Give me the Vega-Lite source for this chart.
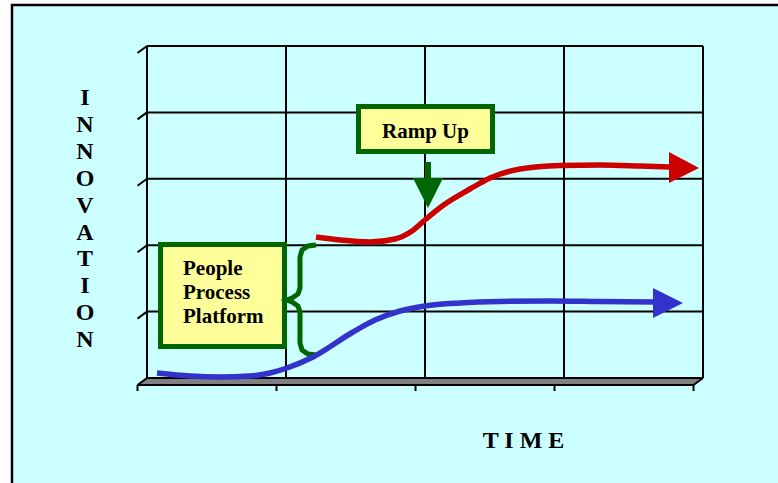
{
  "$schema": "https://vega.github.io/schema/vega-lite/v6.json",
  "width": 778,
  "height": 483,
  "autosize": "none",
  "padding": 0,
  "background": "#ffffff",
  "config": {"view": {"stroke": null}},
  "datasets": {
    "frame": [{"time": -0.9712, "time2": 4.9, "level": 5.6175, "level2": -1.9}],
    "floor": [
      {"level": 0, "time": 0, "time2": 4},
      {"level": -0.1054, "time": -0.0683, "time2": 3.9317}
    ],
    "lines": [
      {"time": 0, "level": 0, "time2": 0, "level2": 5},
      {"time": 1, "level": 0, "time2": 1, "level2": 5},
      {"time": 2, "level": 0, "time2": 2, "level2": 5},
      {"time": 3, "level": 0, "time2": 3, "level2": 5},
      {"time": 4, "level": 0, "time2": 4, "level2": 5},
      {"time": 0, "level": 0, "time2": 4, "level2": 0},
      {"time": 0, "level": 1, "time2": 4, "level2": 1},
      {"time": 0, "level": 2, "time2": 4, "level2": 2},
      {"time": 0, "level": 3, "time2": 4, "level2": 3},
      {"time": 0, "level": 4, "time2": 4, "level2": 4},
      {"time": 0, "level": 5, "time2": 4, "level2": 5},
      {"time": 0, "level": 0, "time2": -0.0683, "level2": -0.1054},
      {"time": 0, "level": 1, "time2": -0.0683, "level2": 0.8946},
      {"time": 0, "level": 2, "time2": -0.0683, "level2": 1.8946},
      {"time": 0, "level": 3, "time2": -0.0683, "level2": 2.8946},
      {"time": 0, "level": 4, "time2": -0.0683, "level2": 3.8946},
      {"time": 0, "level": 5, "time2": -0.0683, "level2": 4.8946},
      {"time": 4, "level": 0, "time2": 3.9317, "level2": -0.1054},
      {"time": -0.0683, "level": -0.1054, "time2": 3.9317, "level2": -0.1054},
      {"time": -0.0683, "level": -0.1054, "time2": -0.0683, "level2": -0.1958},
      {"time": 0.9317, "level": -0.1054, "time2": 0.9317, "level2": -0.1958},
      {"time": 1.9317, "level": -0.1054, "time2": 1.9317, "level2": -0.1958},
      {"time": 2.9317, "level": -0.1054, "time2": 2.9317, "level2": -0.1958},
      {"time": 3.9317, "level": -0.1054, "time2": 3.9317, "level2": -0.1958}
    ],
    "boxes": [
      {"name": "ramp", "time": 1.5216, "time2": 2.4856, "level": 4.0889, "level2": 3.4111},
      {"name": "ppp", "time": 0.0971, "time2": 0.9892, "level": 2.0105, "level2": 0.4744}
    ],
    "brace": [
      {"i": 1, "time": 1.2158, "level": 2.0030},
      {"i": 2, "time": 1.1583, "level": 1.9880},
      {"i": 3, "time": 1.1151, "level": 1.9277},
      {"i": 4, "time": 1.1007, "level": 1.8223},
      {"i": 5, "time": 1.1007, "level": 1.3554},
      {"i": 6, "time": 1.0863, "level": 1.2651},
      {"i": 7, "time": 1.0432, "level": 1.2048},
      {"i": 8, "time": 1.0072, "level": 1.1747},
      {"i": 9, "time": 1.0432, "level": 1.1446},
      {"i": 10, "time": 1.0863, "level": 1.0843},
      {"i": 11, "time": 1.1007, "level": 0.9940},
      {"i": 12, "time": 1.1007, "level": 0.5271},
      {"i": 13, "time": 1.1151, "level": 0.4217},
      {"i": 14, "time": 1.1583, "level": 0.3614},
      {"i": 15, "time": 1.2158, "level": 0.3464}
    ],
    "curves": [
      {"series": "lower", "time": 0.0719, "level": 0.0753},
      {"series": "lower", "time": 0.3094, "level": 0.0301},
      {"series": "lower", "time": 0.5252, "level": 0.0151},
      {"series": "lower", "time": 0.7410, "level": 0.0301},
      {"series": "lower", "time": 0.8849, "level": 0.0753},
      {"series": "lower", "time": 1.0072, "level": 0.1506},
      {"series": "lower", "time": 1.1942, "level": 0.3163},
      {"series": "lower", "time": 1.4820, "level": 0.6928},
      {"series": "lower", "time": 1.6403, "level": 0.8735},
      {"series": "lower", "time": 1.8201, "level": 1.0090},
      {"series": "lower", "time": 2.0, "level": 1.0843},
      {"series": "lower", "time": 2.2518, "level": 1.1295},
      {"series": "lower", "time": 2.5396, "level": 1.1521},
      {"series": "lower", "time": 2.8993, "level": 1.1596},
      {"series": "lower", "time": 3.2590, "level": 1.1521},
      {"series": "lower", "time": 3.6547, "level": 1.1446},
      {"series": "upper", "time": 1.2158, "level": 2.1235},
      {"series": "upper", "time": 1.3885, "level": 2.0783},
      {"series": "upper", "time": 1.6043, "level": 2.0482},
      {"series": "upper", "time": 1.7842, "level": 2.0934},
      {"series": "upper", "time": 1.9065, "level": 2.2139},
      {"series": "upper", "time": 2.0072, "level": 2.3946},
      {"series": "upper", "time": 2.1439, "level": 2.6205},
      {"series": "upper", "time": 2.3237, "level": 2.8464},
      {"series": "upper", "time": 2.4676, "level": 3.0120},
      {"series": "upper", "time": 2.6835, "level": 3.1476},
      {"series": "upper", "time": 2.9712, "level": 3.2003},
      {"series": "upper", "time": 3.2590, "level": 3.2078},
      {"series": "upper", "time": 3.5468, "level": 3.1928},
      {"series": "upper", "time": 3.7626, "level": 3.1777}
    ],
    "heads": [
      {"series": "lower", "time": 3.6403, "level": 1.3554, "level2": 0.9036},
      {"series": "lower", "time": 3.8561, "level": 1.1295, "level2": 1.1295},
      {"series": "upper", "time": 3.7554, "level": 3.4036, "level2": 2.9367},
      {"series": "upper", "time": 3.9712, "level": 3.1627, "level2": 3.1627}
    ],
    "shaft": [{"time": 2.0, "time2": 2.0432, "level": 3.2530, "level2": 2.9819}],
    "greenhead": [
      {"level": 3.0120, "time": 1.9137, "time2": 2.1295},
      {"level": 2.5602, "time": 2.0216, "time2": 2.0216}
    ],
    "ramp": [{"label": "Ramp Up", "time": 2.0036, "level": 3.619}],
    "ppp": [{"label": "People\nProcess\nPlatform", "time": 0.2590, "level": 1.5512}],
    "ytitle": [{"label": "I\nN\nN\nO\nV\nA\nT\nI\nO\nN", "time": -0.446, "level": 4.1114}],
    "xtitle": [{"label": "T I M E", "time": 2.7086, "level": -1.0542}]
  },
  "encoding": {
    "x": {"field": "time", "type": "quantitative", "scale": {"domain": [-1.05755, 4.53957], "nice": false, "zero": false}, "axis": null},
    "y": {"field": "level", "type": "quantitative", "scale": {"domain": [-1.58133, 5.69277], "nice": false, "zero": false}, "axis": null}
  },
  "layer": [
    {
      "data": {"name": "frame"},
      "mark": {"type": "rect", "fill": "#CCFFFF", "stroke": "#000000", "strokeWidth": 2.5, "clip": true},
      "encoding": {"x2": {"field": "time2"}, "y2": {"field": "level2"}}
    },
    {
      "data": {"name": "floor"},
      "mark": {"type": "area", "orient": "horizontal", "color": "#808080", "opacity": 1},
      "encoding": {"x2": {"field": "time2"}}
    },
    {
      "data": {"name": "lines"},
      "mark": {"type": "rule", "color": "#000000", "strokeWidth": 2},
      "encoding": {"x2": {"field": "time2"}, "y2": {"field": "level2"}}
    },
    {
      "data": {"name": "boxes"},
      "mark": {"type": "rect", "fill": "#FFFF99", "stroke": "#006600", "strokeWidth": 5},
      "encoding": {"x2": {"field": "time2"}, "y2": {"field": "level2"}}
    },
    {
      "data": {"name": "brace"},
      "mark": {"type": "line", "color": "#006600", "strokeWidth": 5},
      "encoding": {"order": {"field": "i", "type": "quantitative"}}
    },
    {
      "data": {"name": "curves"},
      "mark": {"type": "line", "strokeWidth": 5.5, "interpolate": "monotone"},
      "encoding": {
        "color": {"field": "series", "type": "nominal", "scale": {"domain": ["upper", "lower"], "range": ["#CC0000", "#3333CC"]}, "legend": null}
      }
    },
    {
      "data": {"name": "heads"},
      "mark": {"type": "area", "orient": "vertical", "opacity": 1},
      "encoding": {
        "y2": {"field": "level2"},
        "color": {"field": "series", "type": "nominal", "scale": {"domain": ["upper", "lower"], "range": ["#CC0000", "#3333CC"]}, "legend": null}
      }
    },
    {
      "data": {"name": "shaft"},
      "mark": {"type": "rect", "color": "#006600"},
      "encoding": {"x2": {"field": "time2"}, "y2": {"field": "level2"}}
    },
    {
      "data": {"name": "greenhead"},
      "mark": {"type": "area", "orient": "horizontal", "color": "#006600", "opacity": 1},
      "encoding": {"x2": {"field": "time2"}}
    },
    {
      "data": {"name": "ramp"},
      "mark": {"type": "text", "font": "Liberation Serif", "fontWeight": "bold", "fontSize": 21, "align": "center", "baseline": "alphabetic", "color": "#000000"},
      "encoding": {"text": {"field": "label"}}
    },
    {
      "data": {"name": "ppp"},
      "mark": {"type": "text", "font": "Liberation Serif", "fontWeight": "bold", "fontSize": 21, "align": "left", "baseline": "alphabetic", "lineBreak": "\n", "lineHeight": 24.2, "color": "#000000"},
      "encoding": {"text": {"field": "label"}}
    },
    {
      "data": {"name": "ytitle"},
      "mark": {"type": "text", "font": "Liberation Serif", "fontWeight": "bold", "fontSize": 24, "align": "center", "baseline": "alphabetic", "lineBreak": "\n", "lineHeight": 26.9, "color": "#000000"},
      "encoding": {"text": {"field": "label"}}
    },
    {
      "data": {"name": "xtitle"},
      "mark": {"type": "text", "font": "Liberation Serif", "fontWeight": "bold", "fontSize": 24, "align": "center", "baseline": "alphabetic", "color": "#000000"},
      "encoding": {"text": {"field": "label"}}
    }
  ]
}
